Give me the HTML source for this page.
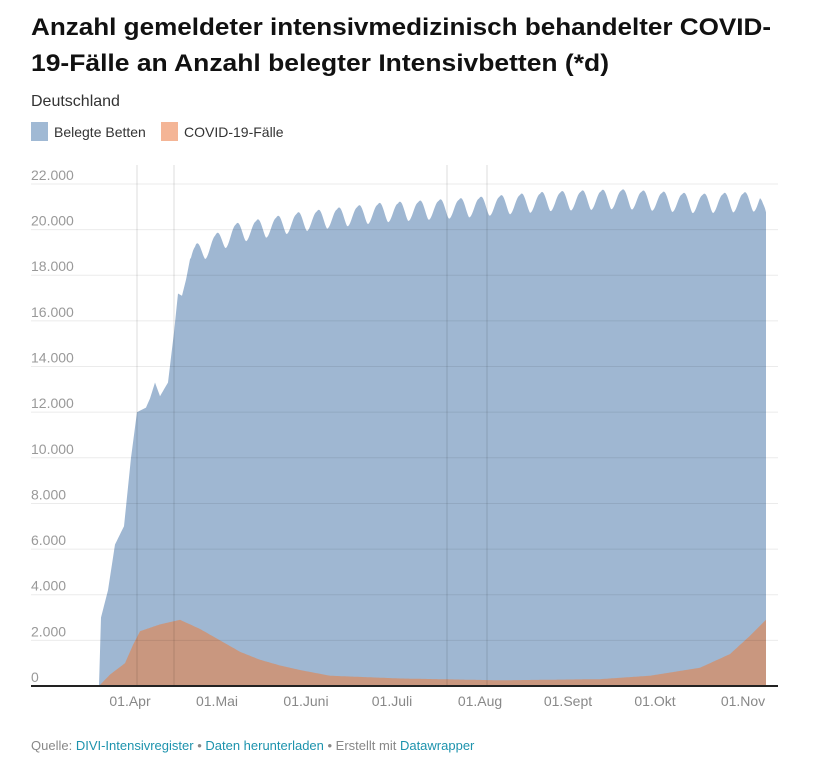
<!DOCTYPE html>
<html><head><meta charset="utf-8"><style>
body{margin:0;background:#fff;}
svg{display:block;font-family:"Liberation Sans",sans-serif;}
</style></head><body>
<svg id="s" width="831" height="758" viewBox="0 0 831 758" xmlns="http://www.w3.org/2000/svg">
<text x="31" y="35" font-size="24" font-weight="bold" fill="#111" textLength="740" lengthAdjust="spacingAndGlyphs">Anzahl gemeldeter intensivmedizinisch behandelter COVID-</text>
<text x="31" y="71" font-size="24" font-weight="bold" fill="#111" textLength="578" lengthAdjust="spacingAndGlyphs">19-Fälle an Anzahl belegter Intensivbetten (*d)</text>
<text x="31" y="106" font-size="16" fill="#333">Deutschland</text>
<rect x="31" y="122" width="17" height="19" fill="#a0b9d4"/>
<text x="54" y="137" font-size="14" fill="#333">Belegte Betten</text>
<rect x="161" y="122" width="17" height="19" fill="#f4b596"/>
<text x="184" y="137" font-size="14" fill="#333">COVID-19-Fälle</text>
<g id="grid"></g>
<path id="blue" fill="#9fb7d2"/>
<path id="orange" fill="#c9977f"/>
<g id="grid2"></g>
<line x1="31" x2="778" y1="686" y2="686" stroke="#222" stroke-width="2"/>
<g font-size="14" fill="#888" text-anchor="middle">
<text x="130" y="706">01.Apr</text><text x="217" y="706">01.Mai</text><text x="306" y="706">01.Juni</text><text x="392" y="706">01.Juli</text><text x="480" y="706">01.Aug</text><text x="568" y="706">01.Sept</text><text x="655" y="706">01.Okt</text><text x="743" y="706">01.Nov</text>
</g>
<text x="31" y="750" font-size="13" fill="#888">Quelle: <tspan fill="#1d93ad">DIVI-Intensivregister</tspan> • <tspan fill="#1d93ad">Daten herunterladen</tspan> • Erstellt mit <tspan fill="#1d93ad">Datawrapper</tspan></text>
</svg>
<script>
var ns="http://www.w3.org/2000/svg";
function Y(v){return 686-v*45.64/2000;}
var g=document.getElementById('grid'),g2=document.getElementById('grid2');
for(var i=0;i<=11;i++){
 var y=Y(i*2000);
 if(i>0){var l=document.createElementNS(ns,'line');l.setAttribute('x1',31);l.setAttribute('x2',778);l.setAttribute('y1',y);l.setAttribute('y2',y);l.setAttribute('stroke','rgba(0,0,0,0.08)');g2.appendChild(l);}
 var t=document.createElementNS(ns,'text');t.setAttribute('x',31);t.setAttribute('y',y-4);t.setAttribute('font-size',14);t.setAttribute('fill','#999');
 t.textContent=i==0?'0':(i*2)+'.000';g.appendChild(t);
}
[137,174,447,487].forEach(function(x){var l=document.createElementNS(ns,'line');l.setAttribute('x1',x);l.setAttribute('x2',x);l.setAttribute('y1',165);l.setAttribute('y2',686);l.setAttribute('stroke','rgba(0,0,0,0.13)');g2.appendChild(l);});
function interp(pts,x){for(var i=1;i<pts.length;i++){if(x<=pts[i][0]){var a=pts[i-1],b=pts[i];return a[1]+(b[1]-a[1])*(x-a[0])/(b[0]-a[0]);}}return pts[pts.length-1][1];}
var B=[[99,0],[101,3000],[108,4200],[115,6200],[124,7000],[131,10000],[137,12000],[146,12200],[150,12600],[155,13300],[160,12700],[168,13300],[174,15500],[178,17200],[182,17100],[186,17800],[190,18700],[196,19000],[205,19200],[235,19900],[300,20400],[380,20800],[460,21000],[550,21300],[620,21400],[700,21200],[766,21300]];
var O=[[99,0],[110,500],[125,1000],[133,1800],[140,2400],[160,2700],[180,2900],[200,2500],[220,2000],[240,1500],[260,1150],[280,900],[300,700],[330,450],[400,330],[500,250],[600,300],[650,450],[700,800],[730,1400],[750,2200],[766,2900]];
var db='M99,686',do_='M99,686';
for(var x=99;x<=766;x+=1){
 var v=interp(B,x);
 if(x>190){v+=400*Math.sin((x-190)*2*Math.PI/20.3)-100+Math.max(0,250*Math.sin((x-195)*2*Math.PI/20.3));}
 if(x>760)v-=(x-760)*150;
 db+=' L'+x+','+Y(v).toFixed(1);
 do_+=' L'+x+','+Y(interp(O,x)).toFixed(1);
}
db+=' L766,686 Z';do_+=' L766,686 Z';
document.getElementById('blue').setAttribute('d',db);
document.getElementById('orange').setAttribute('d',do_);
</script>
</body></html>
